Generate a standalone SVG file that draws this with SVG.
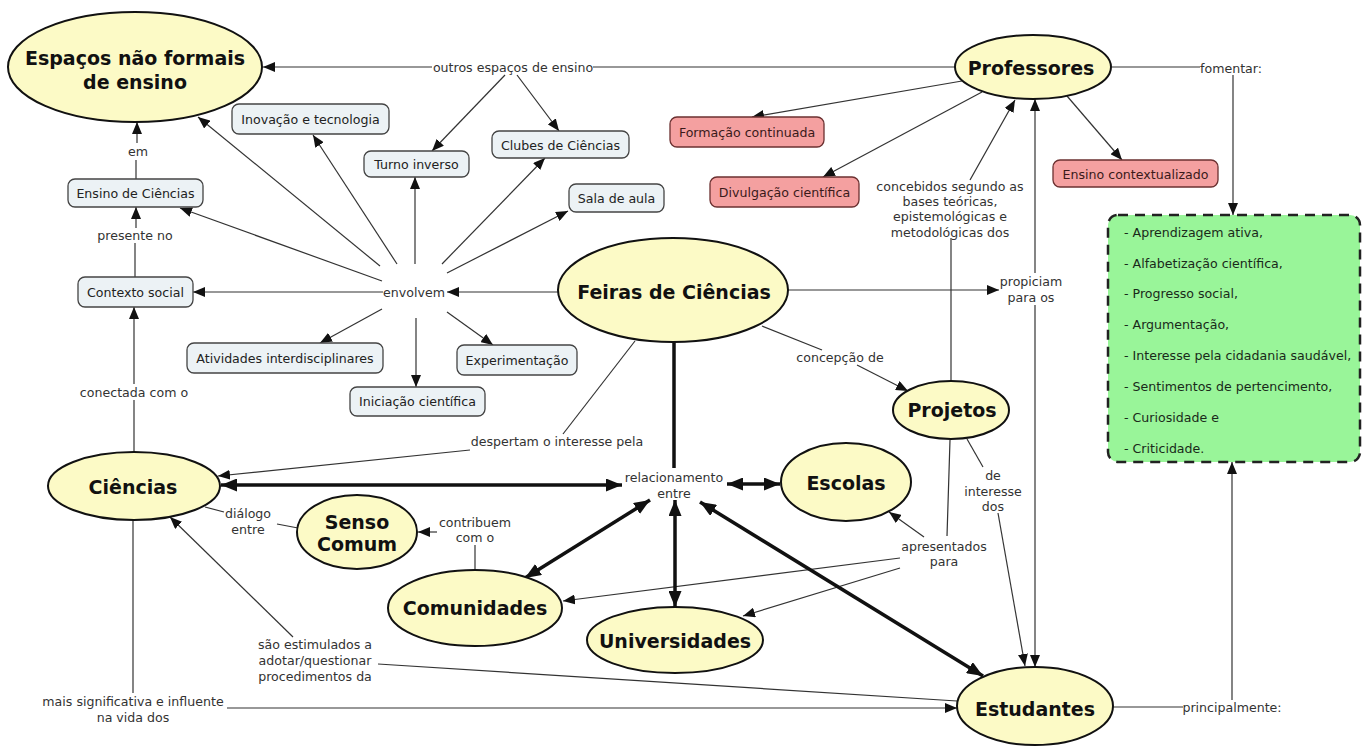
<svg xmlns="http://www.w3.org/2000/svg" width="1368" height="747" viewBox="0 0 1368 747">
<defs>
<style>
text{font-family:"DejaVu Sans",Verdana,sans-serif;dominant-baseline:central;text-anchor:middle}
.n ellipse{fill:#fcfac6;stroke:#111;stroke-width:2}
.n text{font-size:19px;font-weight:bold;fill:#111}
.b rect{fill:#ecf2f5;stroke:#444;stroke-width:1.3}
.b text{font-size:12.6px;fill:#222}
.p rect{fill:#f4a0a0;stroke:#6b3030;stroke-width:1.3}
.p text{font-size:12.6px;fill:#3a1a1a}
.l{font-size:12.6px;fill:#333}
.c path{fill:none;stroke:#333;stroke-width:1.2}
.t path{fill:none;stroke:#111;stroke-width:3.5}
.g text{font-size:12.6px;fill:#1a2a1a;text-anchor:start}
</style>
<marker id="a" viewBox="0 0 12 10" refX="12" refY="5" markerWidth="12" markerHeight="10" markerUnits="userSpaceOnUse" orient="auto-start-reverse"><path d="M0,0 L12,5 L0,10 z" fill="#111"/></marker>
<marker id="A" viewBox="0 0 16 13" refX="16" refY="6.5" markerWidth="16" markerHeight="13" markerUnits="userSpaceOnUse" orient="auto-start-reverse"><path d="M0,0 L16,6.5 L0,13 z" fill="#111"/></marker>
</defs>
<rect width="1368" height="747" fill="#fff"/>

<g id="connectors">
<g class="c">
<path d="M955,67 H593"/>
<path d="M432,67 H263" marker-end="url(#a)"/>
<path d="M505,75 L432,151" marker-end="url(#a)"/>
<path d="M517,75 L559,131" marker-end="url(#a)"/>
<path d="M962,81 L752,117" marker-end="url(#a)"/>
<path d="M982,92 L823,177" marker-end="url(#a)"/>
<path d="M1067,96 L1122,160" marker-end="url(#a)"/>
<path d="M1112,67 H1200"/>
<path d="M1233,75 V215" marker-end="url(#a)"/>
<path d="M1112,707 H1183"/>
<path d="M1232,700 V462" marker-end="url(#a)"/>
<path d="M558,292 H447" marker-end="url(#a)"/>
<path d="M383,292 H193" marker-end="url(#a)"/>
<path d="M382,281 L180,208" marker-end="url(#a)"/>
<path d="M380,266 L198,117" marker-end="url(#a)"/>
<path d="M397,264 L313,135" marker-end="url(#a)"/>
<path d="M415,264 V177" marker-end="url(#a)"/>
<path d="M442,264 L545,158" marker-end="url(#a)"/>
<path d="M447,273 L568,211" marker-end="url(#a)"/>
<path d="M382,309 L320,343" marker-end="url(#a)"/>
<path d="M416,318 V387" marker-end="url(#a)"/>
<path d="M447,312 L493,345" marker-end="url(#a)"/>
<path d="M135,277 V243"/>
<path d="M136,228 V207" marker-end="url(#a)"/>
<path d="M136,179 V160"/>
<path d="M137,143 V122" marker-end="url(#a)"/>
<path d="M134,452 V400"/>
<path d="M134,384 V307" marker-end="url(#a)"/>
<path d="M635,341 L563,434"/>
<path d="M470,450 L218,476" marker-end="url(#a)"/>
<path d="M1035,273 V99" marker-end="url(#a)"/>
<path d="M1035,305 V667" marker-end="url(#a)"/>
<path d="M788,290 H999" marker-end="url(#a)"/>
<path d="M762,326 L822,350"/>
<path d="M857,365 L908,391" marker-end="url(#a)"/>
<path d="M951,381 V238"/>
<path d="M970,180 L1015,100" marker-end="url(#a)"/>
<path d="M967,439 L983,467"/>
<path d="M998,513 L1025,666" marker-end="url(#a)"/>
<path d="M950,440 L947,536"/>
<path d="M924,537 L889,512" marker-end="url(#a)"/>
<path d="M900,558 L563,601" marker-end="url(#a)"/>
<path d="M900,568 L743,616" marker-end="url(#a)"/>
<path d="M475,570 V545"/>
<path d="M437,532 L418,532" marker-end="url(#a)"/>
<path d="M205,507 L224,512"/>
<path d="M277,524 L298,528"/>
<path d="M133,520 V693"/>
<path d="M227,708 H957" marker-end="url(#a)"/>
<path d="M957,701 L378,664"/>
<path d="M293,637 L170,517" marker-end="url(#a)"/>
</g>
<g class="t">
<path d="M674,342 V468"/>
<path d="M221,485 H622" marker-start="url(#A)" marker-end="url(#A)"/>
<path d="M727,484 H780" marker-start="url(#A)" marker-end="url(#A)"/>
<path d="M650,500 L525,578" marker-start="url(#A)" marker-end="url(#A)"/>
<path d="M675,500 V607" marker-start="url(#A)" marker-end="url(#A)"/>
<path d="M700,502 L983,676" marker-start="url(#A)" marker-end="url(#A)"/>
</g>
<g id="labels">
<text class="l" x="513" y="67">outros espaços de ensino</text>
<text class="l" x="1231" y="68">fomentar:</text>
<text class="l" x="1232" y="707">principalmente:</text>
<text class="l" x="138" y="151">em</text>
<text class="l" x="135" y="235">presente no</text>
<text class="l" x="414" y="292">envolvem</text>
<text class="l" x="134" y="392">conectada com o</text>
<text class="l" x="557" y="441">despertam o interesse pela</text>
<text class="l" x="674" y="477">relacionamento</text>
<text class="l" x="674" y="493">entre</text>
<text class="l" x="840" y="357">concepção de</text>
<text class="l" x="950" y="186">concebidos segundo as</text>
<text class="l" x="950" y="201">bases teóricas,</text>
<text class="l" x="950" y="216">epistemológicas e</text>
<text class="l" x="950" y="232">metodológicas dos</text>
<text class="l" x="1031" y="281">propiciam</text>
<text class="l" x="1031" y="297">para os</text>
<text class="l" x="993" y="475">de</text>
<text class="l" x="993" y="491">interesse</text>
<text class="l" x="993" y="506">dos</text>
<text class="l" x="944" y="546">apresentados</text>
<text class="l" x="944" y="561">para</text>
<text class="l" x="248" y="513">diálogo</text>
<text class="l" x="248" y="529">entre</text>
<text class="l" x="475" y="522">contribuem</text>
<text class="l" x="475" y="537">com o</text>
<text class="l" x="315" y="644">são estimulados a</text>
<text class="l" x="315" y="660">adotar/questionar</text>
<text class="l" x="315" y="676">procedimentos da</text>
<text class="l" x="133" y="701">mais significativa e influente</text>
<text class="l" x="133" y="717">na vida dos</text>
</g>
</g>

<g id="espacos" class="n"><ellipse cx="135" cy="67" rx="127" ry="55"/><text x="135" y="58">Espaços não formais</text><text x="135" y="82">de ensino</text></g>
<g id="professores" class="n"><ellipse cx="1033" cy="67" rx="78" ry="32"/><text x="1031" y="68">Professores</text></g>
<g id="feiras" class="n"><ellipse cx="673" cy="290" rx="115" ry="52"/><text x="674" y="292">Feiras de Ciências</text></g>
<g id="projetos" class="n"><ellipse cx="951" cy="410" rx="58" ry="29"/><text x="952" y="410">Projetos</text></g>
<g id="escolas" class="n"><ellipse cx="846" cy="482" rx="65" ry="39"/><text x="846" y="483">Escolas</text></g>
<g id="ciencias" class="n"><ellipse cx="134" cy="486" rx="86" ry="34"/><text x="133" y="487">Ciências</text></g>
<g id="senso" class="n"><ellipse cx="357" cy="532" rx="60" ry="37"/><text x="357" y="522">Senso</text><text x="357" y="544">Comum</text></g>
<g id="comunidades" class="n"><ellipse cx="475" cy="608" rx="87" ry="38"/><text x="475" y="608">Comunidades</text></g>
<g id="universidades" class="n"><ellipse cx="675" cy="640" rx="88" ry="33"/><text x="675" y="641">Universidades</text></g>
<g id="estudantes" class="n"><ellipse cx="1035" cy="706" rx="78" ry="39"/><text x="1035" y="709">Estudantes</text></g>

<g id="inovacao" class="b"><rect x="232" y="104" width="157" height="30" rx="7"/><text x="310.5" y="119">Inovação e tecnologia</text></g>
<g id="turno" class="b"><rect x="364" y="151" width="105" height="26" rx="7"/><text x="416.5" y="164">Turno inverso</text></g>
<g id="clubes" class="b"><rect x="492" y="131" width="137" height="27" rx="7"/><text x="560.5" y="145">Clubes de Ciências</text></g>
<g id="sala" class="b"><rect x="569" y="184" width="95" height="28" rx="7"/><text x="616.5" y="198">Sala de aula</text></g>
<g id="ensino" class="b"><rect x="68" y="179" width="135" height="28" rx="7"/><text x="135.5" y="193">Ensino de Ciências</text></g>
<g id="contexto" class="b"><rect x="78" y="277" width="115" height="30" rx="7"/><text x="135.5" y="292">Contexto social</text></g>
<g id="atividades" class="b"><rect x="187" y="343" width="196" height="30" rx="7"/><text x="285" y="358">Atividades interdisciplinares</text></g>
<g id="iniciacao" class="b"><rect x="350" y="387" width="135" height="29" rx="7"/><text x="417.5" y="401.5">Iniciação científica</text></g>
<g id="experimentacao" class="b"><rect x="457" y="345" width="120" height="30" rx="7"/><text x="517" y="360">Experimentação</text></g>

<g id="formacao" class="p"><rect x="670" y="117" width="154" height="30" rx="7"/><text x="747" y="132">Formação continuada</text></g>
<g id="divulgacao" class="p"><rect x="710" y="177" width="149" height="30" rx="7"/><text x="784.5" y="192">Divulgação científica</text></g>
<g id="contextualizado" class="p"><rect x="1053" y="160" width="165" height="27" rx="7"/><text x="1135.5" y="174">Ensino contextualizado</text></g>

<g id="objetivos" class="g">
<rect x="1108" y="215" width="252" height="247" rx="10" fill="#99f599" stroke="#222" stroke-width="2.5" stroke-dasharray="10 7"/>
<text x="1124" y="232">- Aprendizagem ativa,</text>
<text x="1124" y="263">- Alfabetização científica,</text>
<text x="1124" y="293">- Progresso social,</text>
<text x="1124" y="324">- Argumentação,</text>
<text x="1124" y="355">- Interesse pela cidadania saudável,</text>
<text x="1124" y="386">- Sentimentos de pertencimento,</text>
<text x="1124" y="417">- Curiosidade e</text>
<text x="1124" y="448">- Criticidade.</text>
</g>
</svg>
